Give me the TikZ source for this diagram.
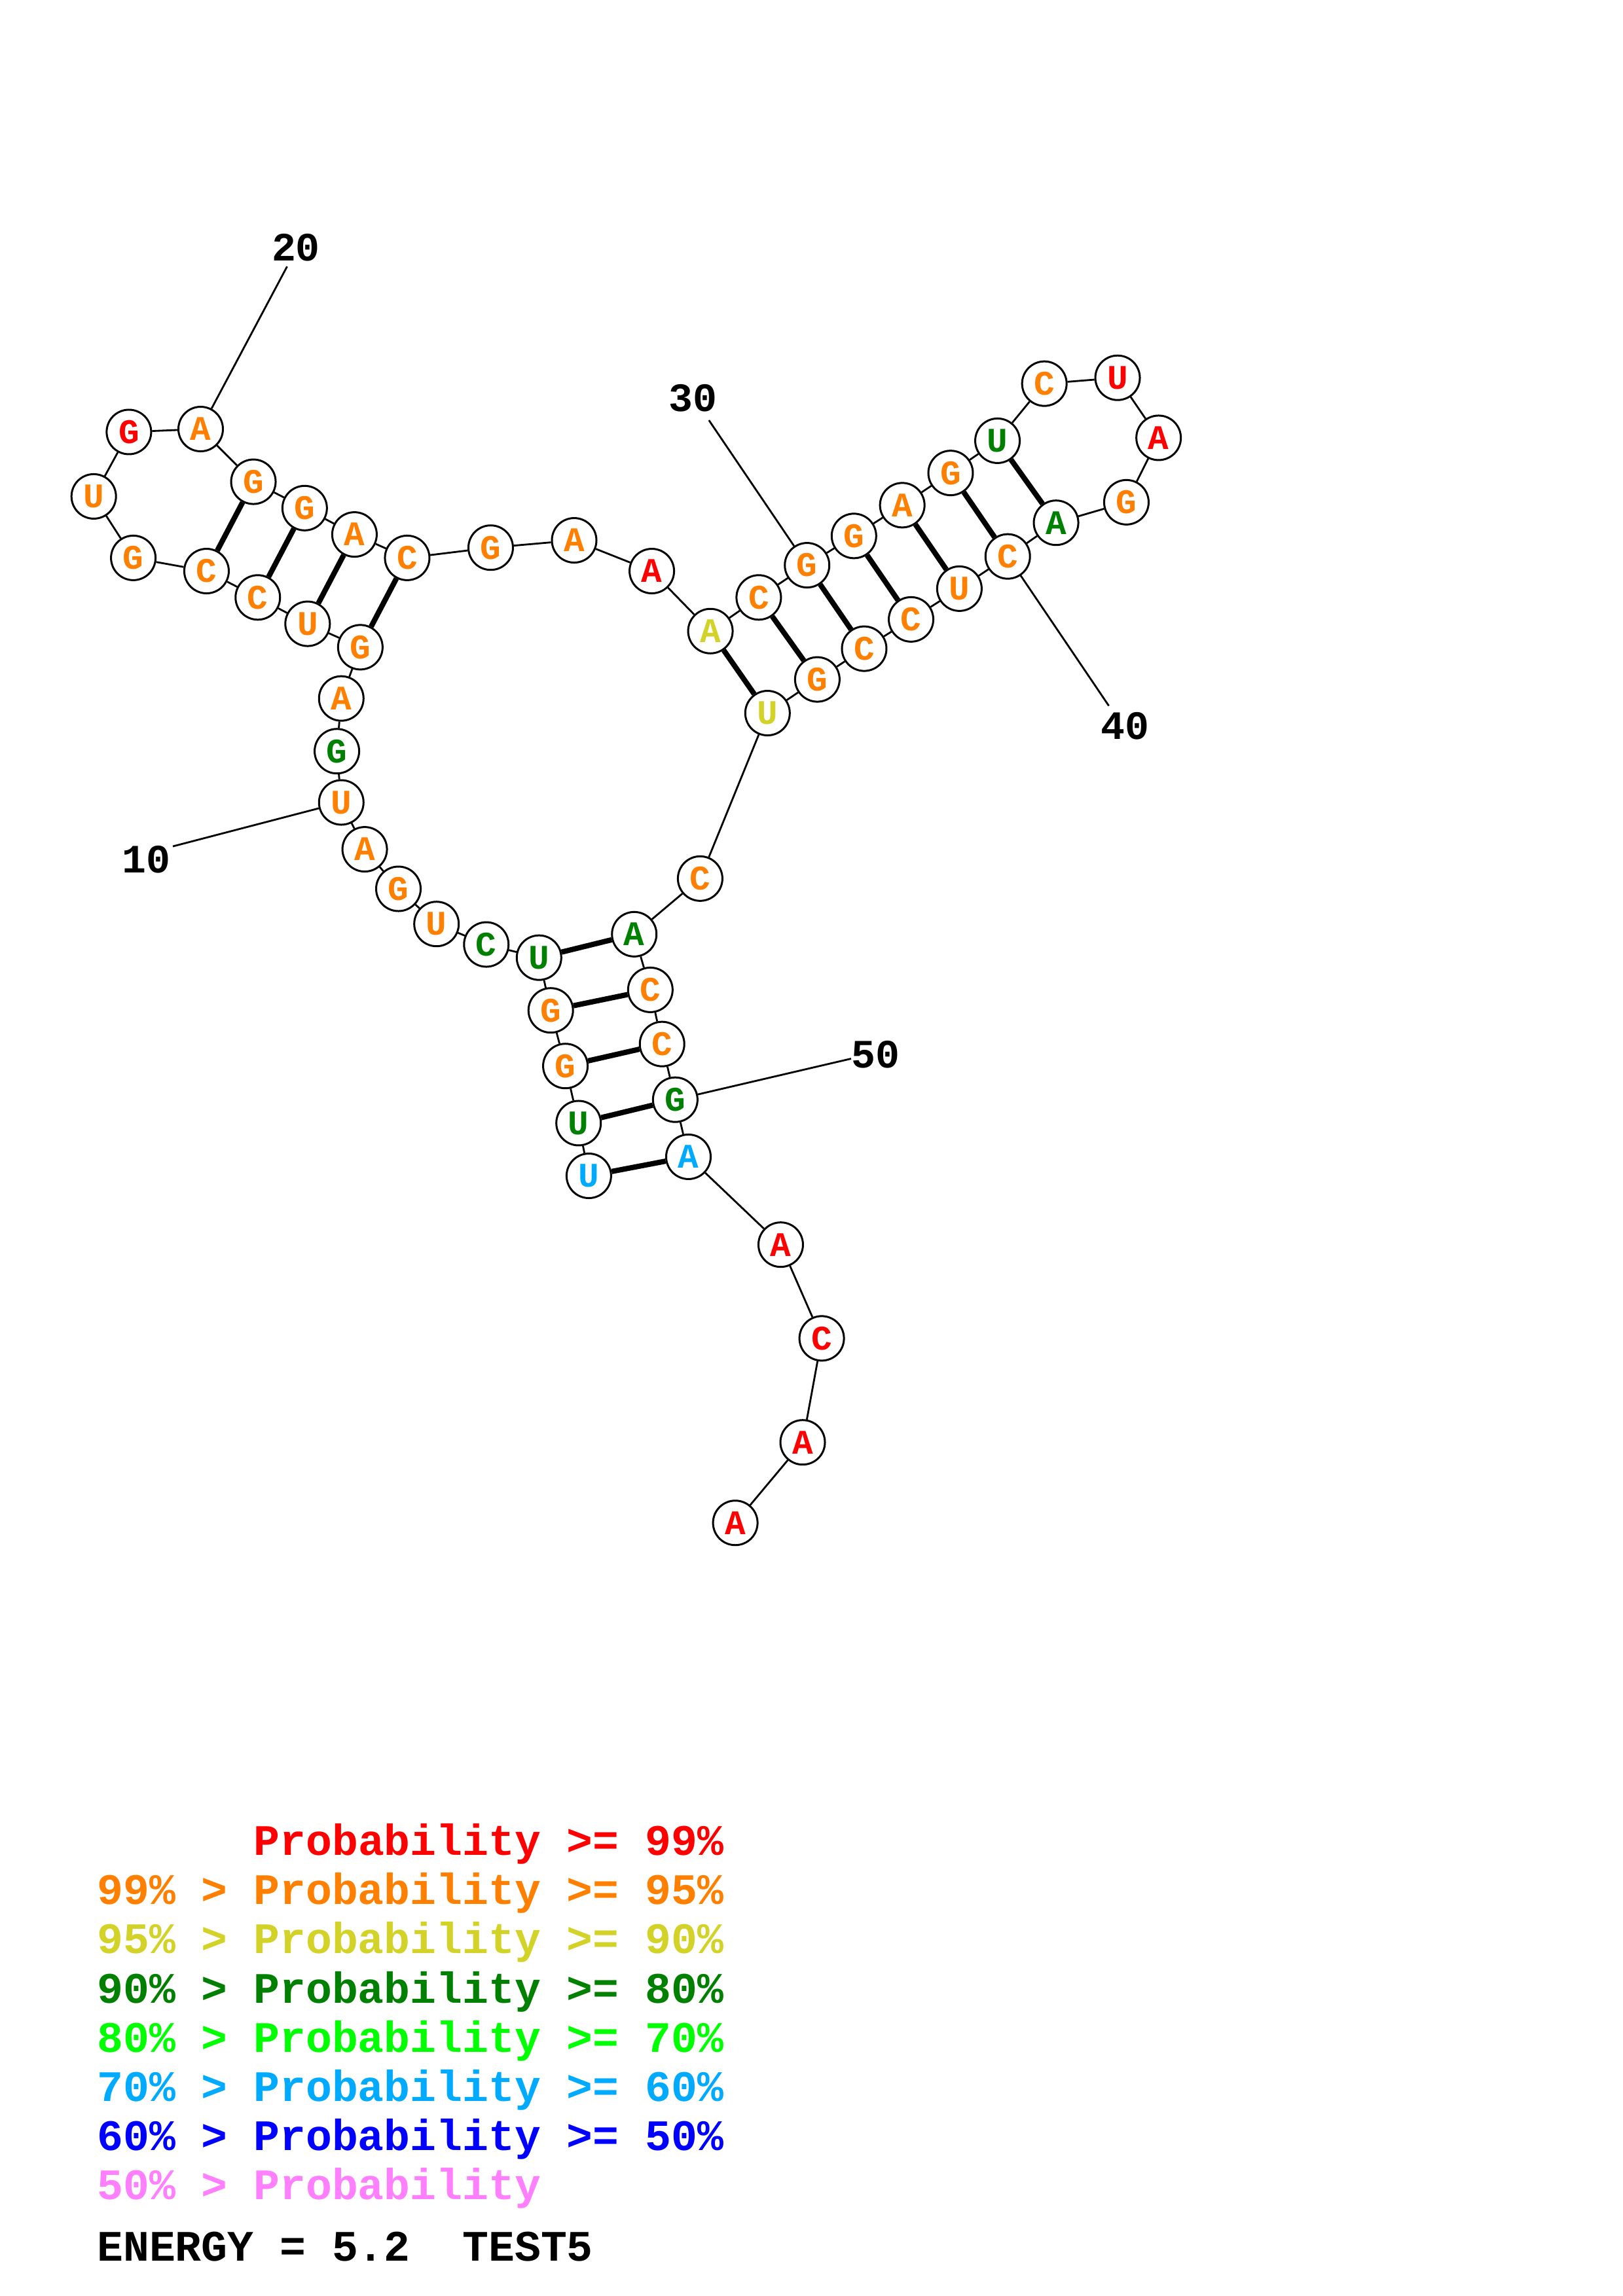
\documentclass[tikz,border=0pt]{standalone}
\usepackage{fontspec}
\setmainfont{Liberation Mono}
\usepackage{tikz}
\usepackage{xcolor}
\definecolor{pred}{RGB}{255,0,0}
\definecolor{porange}{RGB}{255,128,0}
\definecolor{pyellow}{RGB}{210,210,40}
\definecolor{pdkgreen}{RGB}{0,128,0}
\definecolor{pgreen}{RGB}{0,255,0}
\definecolor{plblue}{RGB}{0,170,255}
\definecolor{pblue}{RGB}{0,0,255}
\definecolor{ppink}{RGB}{255,128,255}
\tikzstyle{base} = [circle,draw,line width=0.85pt,fill=white,minimum size=0.68cm,inner sep=0pt,font=\fontsize{15}{15}\selectfont\bfseries]
\tikzstyle{backbone} = [line width=0.8pt]
\tikzstyle{pair} = [line width=2.3pt]
\tikzstyle{numlabel} = [font=\fontsize{17.5}{17.5}\selectfont\bfseries]
\tikzstyle{legend} = [anchor=base west,inner sep=0pt,font=\fontsize{18.9}{18.9}\selectfont\bfseries]

\begin{document}
\begin{tikzpicture}[x=0.022374cm, y=-0.022374cm]
\useasboundingbox (0,0) rectangle (1108,1568);

% 5' stem and left hairpin
\node[base, text=plblue] (b1) at (402,803) {U};
\node[base, text=pdkgreen] (b2) at (395,767) {U};
\node[base, text=porange] (b3) at (386,728) {G};
\node[base, text=porange] (b4) at (376,690) {G};
\node[base, text=pdkgreen] (b5) at (368,654) {U};
\node[base, text=pdkgreen] (b6) at (332,645) {C};
\node[base, text=porange] (b7) at (298,631) {U};
\node[base, text=porange] (b8) at (272,607) {G};
\node[base, text=porange] (b9) at (249,580) {A};
\node[base, text=porange] (b10) at (233,548) {U};
\node[base, text=pdkgreen] (b11) at (230,513) {G};
\node[base, text=porange] (b12) at (233,477) {A};
\node[base, text=porange] (b13) at (246,442) {G};
\node[base, text=porange] (b14) at (210,426) {U};
\node[base, text=porange] (b15) at (176,408) {C};
\node[base, text=porange] (b16) at (141,390) {C};
\node[base, text=porange] (b17) at (91,381) {G};
\node[base, text=porange] (b18) at (64,339) {U};
\node[base, text=pred] (b19) at (88,295) {G};
\node[base, text=porange] (b20) at (137,293) {A};
\node[base, text=porange] (b21) at (173,329) {G};
\node[base, text=porange] (b22) at (208,347) {G};
\node[base, text=porange] (b23) at (242,365) {A};
\node[base, text=porange] (b24) at (278,381) {C};

% multiloop and right hairpin
\node[base, text=porange] (b25) at (335,374) {G};
\node[base, text=porange] (b26) at (392,369) {A};
\node[base, text=pred] (b27) at (445,390) {A};
\node[base, text=pyellow] (b28) at (485,431) {A};
\node[base, text=porange] (b29) at (518,408) {C};
\node[base, text=porange] (b30) at (551,386) {G};
\node[base, text=porange] (b31) at (583,366) {G};
\node[base, text=porange] (b32) at (616,345) {A};
\node[base, text=porange] (b33) at (649,323) {G};
\node[base, text=pdkgreen] (b34) at (681,301) {U};
\node[base, text=porange] (b35) at (713,262) {C};
\node[base, text=pred] (b36) at (763,258) {U};
\node[base, text=pred] (b37) at (791,299) {A};
\node[base, text=porange] (b38) at (769,343) {G};
\node[base, text=pdkgreen] (b39) at (721,357) {A};
\node[base, text=porange] (b40) at (688,380) {C};
\node[base, text=porange] (b41) at (655,402) {U};
\node[base, text=porange] (b42) at (622,423) {C};
\node[base, text=porange] (b43) at (590,443) {C};
\node[base, text=porange] (b44) at (558,464) {G};
\node[base, text=pyellow] (b45) at (524,487) {U};
\node[base, text=porange] (b46) at (478,600) {C};

% 3' side of the stem and tail
\node[base, text=pdkgreen] (b47) at (433,638) {A};
\node[base, text=porange] (b48) at (444,676) {C};
\node[base, text=porange] (b49) at (452,713) {C};
\node[base, text=pdkgreen] (b50) at (461,751) {G};
\node[base, text=plblue] (b51) at (470,790) {A};
\node[base, text=pred] (b52) at (533,850) {A};
\node[base, text=pred] (b53) at (561,914) {C};
\node[base, text=pred] (b54) at (548,985) {A};
\node[base, text=pred] (b55) at (502,1040) {A};

% backbone
\draw[backbone] (b1) -- (b2) -- (b3) -- (b4) -- (b5) -- (b6) -- (b7) -- (b8) -- (b9) -- (b10)
  -- (b11) -- (b12) -- (b13) -- (b14) -- (b15) -- (b16) -- (b17) -- (b18) -- (b19) -- (b20)
  -- (b21) -- (b22) -- (b23) -- (b24) -- (b25) -- (b26) -- (b27) -- (b28) -- (b29) -- (b30)
  -- (b31) -- (b32) -- (b33) -- (b34) -- (b35) -- (b36) -- (b37) -- (b38) -- (b39) -- (b40)
  -- (b41) -- (b42) -- (b43) -- (b44) -- (b45) -- (b46) -- (b47) -- (b48) -- (b49) -- (b50)
  -- (b51) -- (b52) -- (b53) -- (b54) -- (b55);

% base pairs
\draw[pair] (b1) -- (b51) (b2) -- (b50) (b3) -- (b49) (b4) -- (b48) (b5) -- (b47);
\draw[pair] (b13) -- (b24) (b14) -- (b23) (b15) -- (b22) (b16) -- (b21);
\draw[pair] (b28) -- (b45) (b29) -- (b44) (b30) -- (b43) (b31) -- (b42) (b32) -- (b41)
  (b33) -- (b40) (b34) -- (b39);

% numbering
\node[numlabel] (lab10) at (100,587) {10};
\node[numlabel] (lab20) at (202,169) {20};
\node[numlabel] (lab30) at (473,272) {30};
\node[numlabel] (lab40) at (768,496) {40};
\node[numlabel] (lab50) at (598,720) {50};
\coordinate (t10) at (118,578);
\coordinate (t20) at (196,182);
\coordinate (t30) at (484,287);
\coordinate (t40) at (757,482);
\coordinate (t50) at (581,723);
\draw[backbone] (b10) -- (t10) (b20) -- (t20) (b30) -- (t30) (b40) -- (t40) (b50) -- (t50);

% legend
\node[legend, text=pred] (leg1) at (66,1267) {\phantom{99\% > }Probability >= 99\%};
\node[legend, text=porange] (leg2) at (66,1300.6) {99\% > Probability >= 95\%};
\node[legend, text=pyellow] (leg3) at (66,1334.2) {95\% > Probability >= 90\%};
\node[legend, text=pdkgreen] (leg4) at (66,1367.8) {90\% > Probability >= 80\%};
\node[legend, text=pgreen] (leg5) at (66,1401.4) {80\% > Probability >= 70\%};
\node[legend, text=plblue] (leg6) at (66,1435) {70\% > Probability >= 60\%};
\node[legend, text=pblue] (leg7) at (66,1468.6) {60\% > Probability >= 50\%};
\node[legend, text=ppink] (leg8) at (66,1502.2) {50\% > Probability};
\node[legend] (energy) at (66,1544) {ENERGY = 5.2\ \ TEST5};
\end{tikzpicture}
\end{document}
